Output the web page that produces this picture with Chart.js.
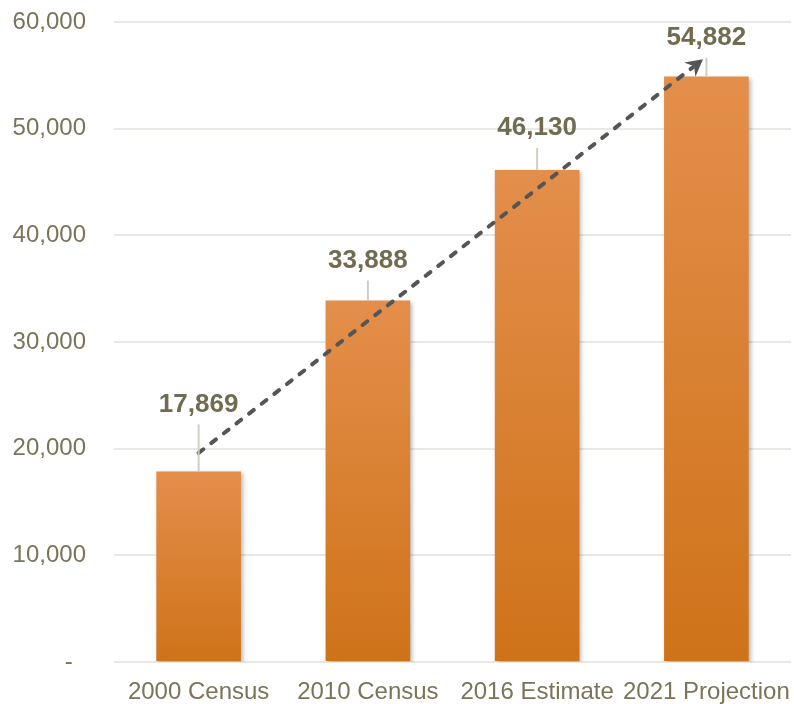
<!DOCTYPE html>
<html>
<head>
<meta charset="utf-8">
<script src="https://cdn.jsdelivr.net/npm/chart.js@4/dist/chart.umd.min.js"></script>
<style>
  html, body { margin: 0; padding: 0; background: #ffffff; }
  #wrap { width: 794px; height: 704px; }
</style>
</head>
<body>
<div id="wrap"><canvas id="chart" width="794" height="704"></canvas></div>
<script>
// Population by year
const categories = ['2000 Census', '2010 Census', '2016 Estimate', '2021 Projection'];
const population = [17869, 33888, 46130, 54882];
const yTicks = [0, 10000, 20000, 30000, 40000, 50000, 60000];
// Growth arrow, in (category index, value) units
const trendStart = [0, 19600];
const trendEnd = [2.98, 56500];

const TEXT = '#7A7459';
const LABEL = '#716B50';

function fmt(v) {
  return v === 0 ? '-  ' : v.toLocaleString('en-US');
}

// Vertical gradient per bar, lighter at the top
function barGradient(ctx) {
  const chart = ctx.chart;
  const y = chart.scales.y;
  if (!chart.chartArea || !y || ctx.dataIndex === undefined) return '#DA8133';
  const top = y.getPixelForValue(ctx.raw);
  const bottom = y.getPixelForValue(0);
  if (!isFinite(top) || !isFinite(bottom) || top === bottom) return '#DA8133';
  const g = chart.ctx.createLinearGradient(0, top, 0, bottom);
  g.addColorStop(0, '#E38E4B');
  g.addColorStop(1, '#CF7319');
  return g;
}

const barShadow = {
  id: 'barShadow',
  beforeDatasetsDraw(chart) {
    const c = chart.ctx;
    c.save();
    c.shadowColor = 'rgba(0,0,0,0.28)';
    c.shadowBlur = 4;
    c.shadowOffsetX = 2;
    c.shadowOffsetY = 2;
  },
  afterDatasetsDraw(chart) {
    chart.ctx.restore();
  }
};

const valueLabels = {
  id: 'valueLabels',
  afterDatasetsDraw(chart, args, opts) {
    const c = chart.ctx;
    const meta = chart.getDatasetMeta(0);
    c.save();
    meta.data.forEach((bar, i) => {
      const v = chart.data.datasets[0].data[i];
      const cy = bar.y - opts.lift[i];
      // leader line
      c.strokeStyle = '#D1CDC1';
      c.lineWidth = 2;
      c.beginPath();
      c.moveTo(bar.x, cy + 20);
      c.lineTo(bar.x, bar.y);
      c.stroke();
      c.fillStyle = LABEL;
      c.font = 'bold 26px "Liberation Sans", Arial, sans-serif';
      c.textAlign = 'center';
      c.textBaseline = 'middle';
      c.fillText(v.toLocaleString('en-US'), bar.x, cy);
    });
    c.restore();
  }
};

const growthArrow = {
  id: 'growthArrow',
  afterDatasetsDraw(chart) {
    const c = chart.ctx;
    const xs = chart.scales.x, ys = chart.scales.y;
    const x0 = xs.getPixelForValue(trendStart[0]), y0 = ys.getPixelForValue(trendStart[1]);
    const x1 = xs.getPixelForValue(trendEnd[0]), y1 = ys.getPixelForValue(trendEnd[1]);
    const ang = Math.atan2(y1 - y0, x1 - x0);
    const headLen = 19;
    const bx = x1 - Math.cos(ang) * (headLen - 6);
    const by = y1 - Math.sin(ang) * (headLen - 6);
    c.save();
    c.strokeStyle = '#555555';
    c.fillStyle = '#555555';
    c.lineWidth = 4;
    c.lineCap = 'round';
    c.setLineDash([6, 10]);
    c.beginPath();
    c.moveTo(x0, y0);
    c.lineTo(bx, by);
    c.stroke();
    c.setLineDash([]);
    // stealth arrowhead
    const w = 0.5;
    c.beginPath();
    c.moveTo(x1, y1);
    c.lineTo(x1 - headLen * Math.cos(ang - w), y1 - headLen * Math.sin(ang - w));
    c.lineTo(x1 - (headLen * 0.6) * Math.cos(ang), y1 - (headLen * 0.6) * Math.sin(ang));
    c.lineTo(x1 - headLen * Math.cos(ang + w), y1 - headLen * Math.sin(ang + w));
    c.closePath();
    c.fill();
    c.restore();
  }
};

new Chart(document.getElementById('chart'), {
  type: 'bar',
  data: {
    labels: categories,
    datasets: [{
      data: population,
      backgroundColor: barGradient,
      borderWidth: 0,
      categoryPercentage: 1,
      barPercentage: 0.5
    }]
  },
  options: {
    responsive: false,
    animation: false,
    events: [],
    layout: { padding: { top: 22, right: 3, bottom: 0, left: 0 } },
    plugins: {
      legend: { display: false },
      tooltip: { enabled: false },
      valueLabels: { lift: [67, 40, 42, 39] }
    },
    scales: {
      x: {
        grid: { display: false, drawTicks: false },
        border: { display: false },
        ticks: {
          color: TEXT,
          padding: 16,
          maxRotation: 0,
          autoSkip: false,
          font: { family: '"Liberation Sans", Arial, sans-serif', size: 24 }
        },
        afterFit(s) {
          s.height = 42;
          s.paddingLeft = 0; s.paddingRight = 0;
        }
      },
      y: {
        min: 0,
        max: 60000,
        afterBuildTicks(s) { s.ticks = yTicks.map(v => ({ value: v })); },
        grid: { color: '#EAE8E2', lineWidth: 2, drawTicks: false },
        border: { display: false },
        ticks: {
          color: TEXT,
          padding: 28,
          callback: v => fmt(v),
          font: { family: '"Liberation Sans", Arial, sans-serif', size: 24 }
        },
        afterFit(s) {
          s.width = 114;
          s.paddingTop = 0; s.paddingBottom = 0;
        }
      }
    }
  },
  plugins: [barShadow, growthArrow, valueLabels]
});
</script>
</body>
</html>
